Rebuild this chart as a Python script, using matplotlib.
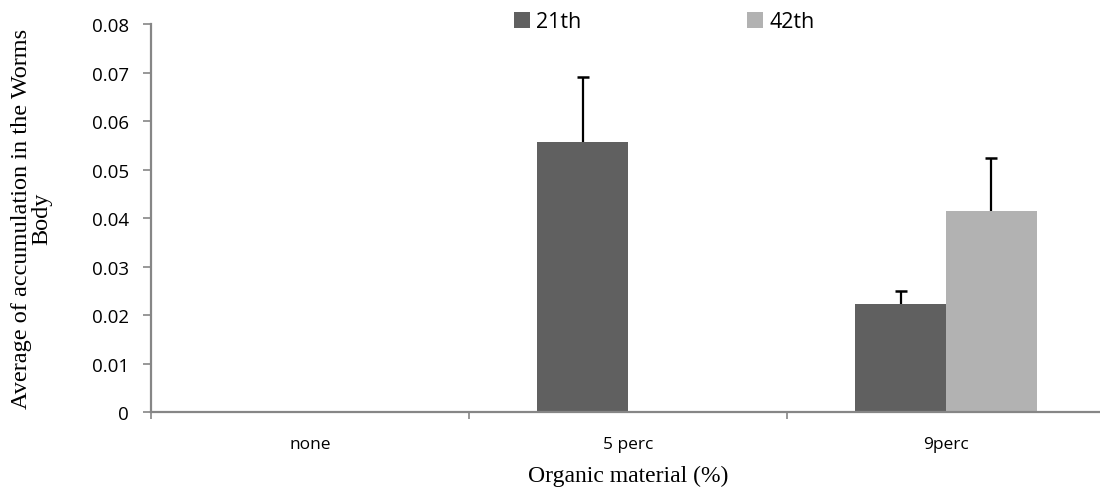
import matplotlib
matplotlib.use("Agg")
import matplotlib.pyplot as plt
import numpy as np

categories = ["none", "5 perc", "9perc"]
series = ["21th", "42th"]
vals_21 = [0.0, 0.0557, 0.0223]
err_21 = [0.0, 0.0134, 0.0027]
vals_42 = [0.0, 0.0, 0.0415]
err_42 = [0.0, 0.0, 0.0108]
yticks = [0, 0.01, 0.02, 0.03, 0.04, 0.05, 0.06, 0.07, 0.08]

fig = plt.figure(figsize=(11, 4.89), dpi=100)
ax = fig.add_axes([151/1100, 75.7/489, 954/1100, 388.3/489])

x = np.arange(len(categories))
w = 0.285
b1 = ax.bar(x - w/2, vals_21, w, color="#606060", label=series[0])
b2 = ax.bar(x + w/2, vals_42, w, color="#b2b2b2", label=series[1])

# only the upper half of each error bar, with a cap on top
cap = 0.019
for xs, v, e in [(x - w/2, vals_21, err_21), (x + w/2, vals_42, err_42)]:
    for xi, vi, ei in zip(xs, v, e):
        if ei > 0:
            ax.vlines(xi, vi, vi + ei, color="black", lw=1.6)
            ax.hlines(vi + ei, xi - cap, xi + cap, color="black", lw=1.8)

ax.set_xlim(-0.5, 2.5)
ax.set_ylim(0, 0.08)
ax.set_yticks(yticks)
ax.set_yticklabels(["0" if t == 0 else "%.2f" % t for t in yticks])
ax.set_xticks(x)
ax.set_xticklabels(categories)
ax.set_xticks([-0.5, 0.5, 1.5, 2.5], minor=True)
ax.tick_params(axis="x", which="major", length=0, pad=17, labelsize=12.5)
ax.tick_params(axis="x", which="minor", length=5, width=1.2, color="#868686", direction="out")
ax.tick_params(axis="y", length=6, width=1.2, color="#868686", labelsize=13.5, pad=10)
for lab in ax.get_xticklabels() + ax.get_yticklabels():
    lab.set_family("Open Sans")

for s in ["top", "right"]:
    ax.spines[s].set_visible(False)
for s in ["left", "bottom"]:
    ax.spines[s].set_color("#868686")
    ax.spines[s].set_linewidth(1.6)

ax.set_xlabel("Organic material (%)", family="Liberation Serif", fontsize=17, labelpad=9)
ax.set_ylabel("Average of accumulation in the Worms\nBody", family="Liberation Serif",
              fontsize=17.5, labelpad=28, linespacing=1.0)

leg = fig.legend(handles=[b1, b2], loc="center left", bbox_to_anchor=(505/1100, 1 - 23/489),
                 ncol=2, frameon=False, handlelength=0.75, handleheight=0.75,
                 handletextpad=0.3, columnspacing=7.7, borderaxespad=0,
                 prop={"family": "Open Sans", "size": 15.5})

fig.savefig("out.png", dpi=100)
